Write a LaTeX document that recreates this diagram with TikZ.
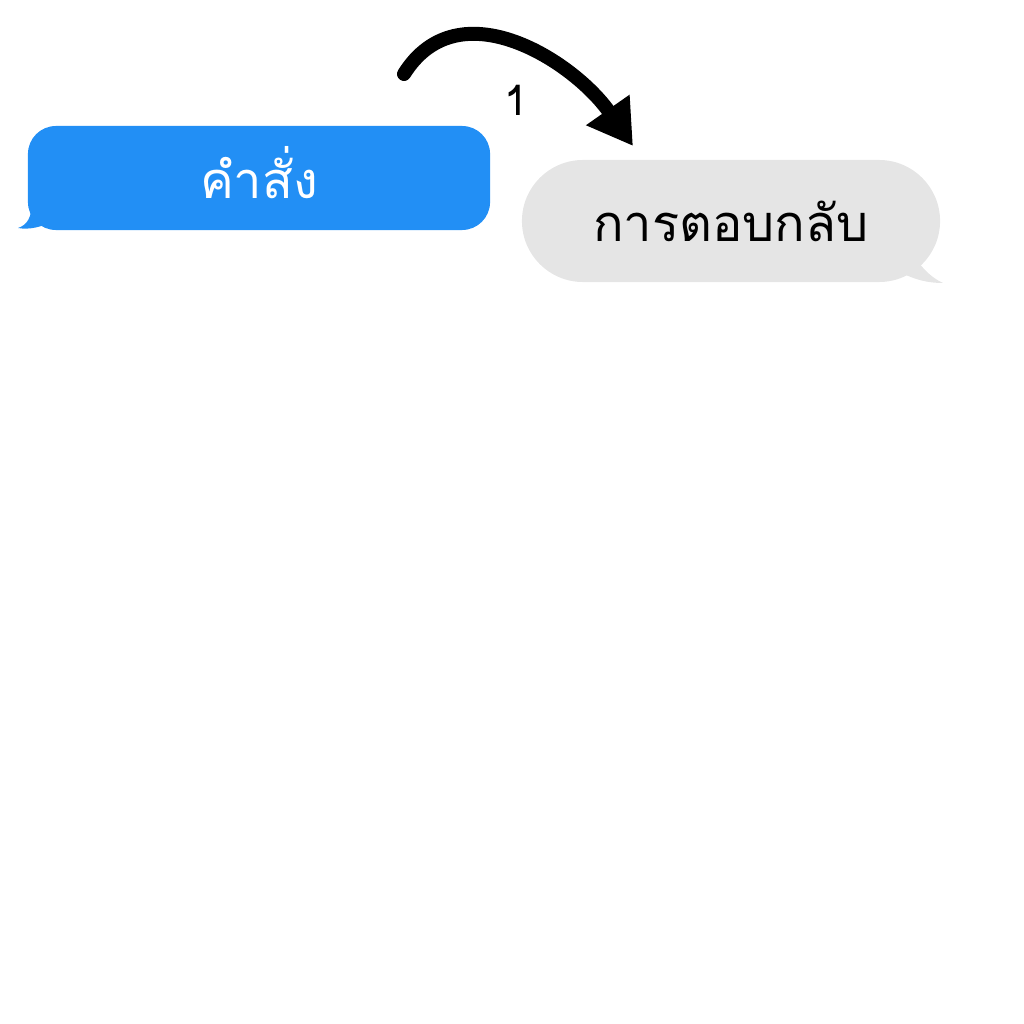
\documentclass[tikz,border=0pt]{standalone}
\usepackage{fontspec}
\usetikzlibrary{positioning,arrows.meta,shapes.misc}
\newfontfamily\thaifont[Script=Thai]{Loma}
\definecolor{msgblue}{RGB}{34,143,245}
\definecolor{msggray}{RGB}{229,229,229}
\tikzset{
  bubble/.style={rounded rectangle, inner sep=0pt, text height=1.0cm, text depth=0cm,
    font=\thaifont\fontsize{36}{42}\selectfont},
  cmdbubble/.style={bubble, fill=msgblue, text=white, rounded corners=0.7cm, rectangle, minimum width=11.55cm, minimum height=2.6cm},
  replybubble/.style={bubble, fill=msggray, text=black, minimum width=10.45cm, minimum height=3.05cm},
  bend arrow/.style={line width=0.35cm, line cap=round, -{Triangle[length=1.1cm,width=1.25cm]}},
}
\begin{document}
\begin{tikzpicture}[x=0.025cm,y=-0.025cm]
  \useasboundingbox (0,0) rectangle (1024,1024);
    \node [cmdbubble] (cmd) at (259,178) {คำสั่ง};
    \node [replybubble] (reply) at (731,221) {การตอบกลับ};
  \fill [msgblue] (32,200) .. controls (32,218) and (27,225) .. (18,228)
       .. controls (30,230) and (40,227) .. (52,222) -- cycle;
  \fill [msggray] (915,258) .. controls (924,270) and (932,278) .. (943,283)
       .. controls (928,283) and (915,280) .. (900,272) -- cycle;
    \coordinate (from) at (404,74);
    \coordinate (to) at (633,146);
  \draw [bend arrow] (from) to [out=58,in=125,looseness=1.1] (to);
    \node [font=\thaifont\fontsize{30}{34}\selectfont] (step) at (516,100) {1};
\end{tikzpicture}
\end{document}
